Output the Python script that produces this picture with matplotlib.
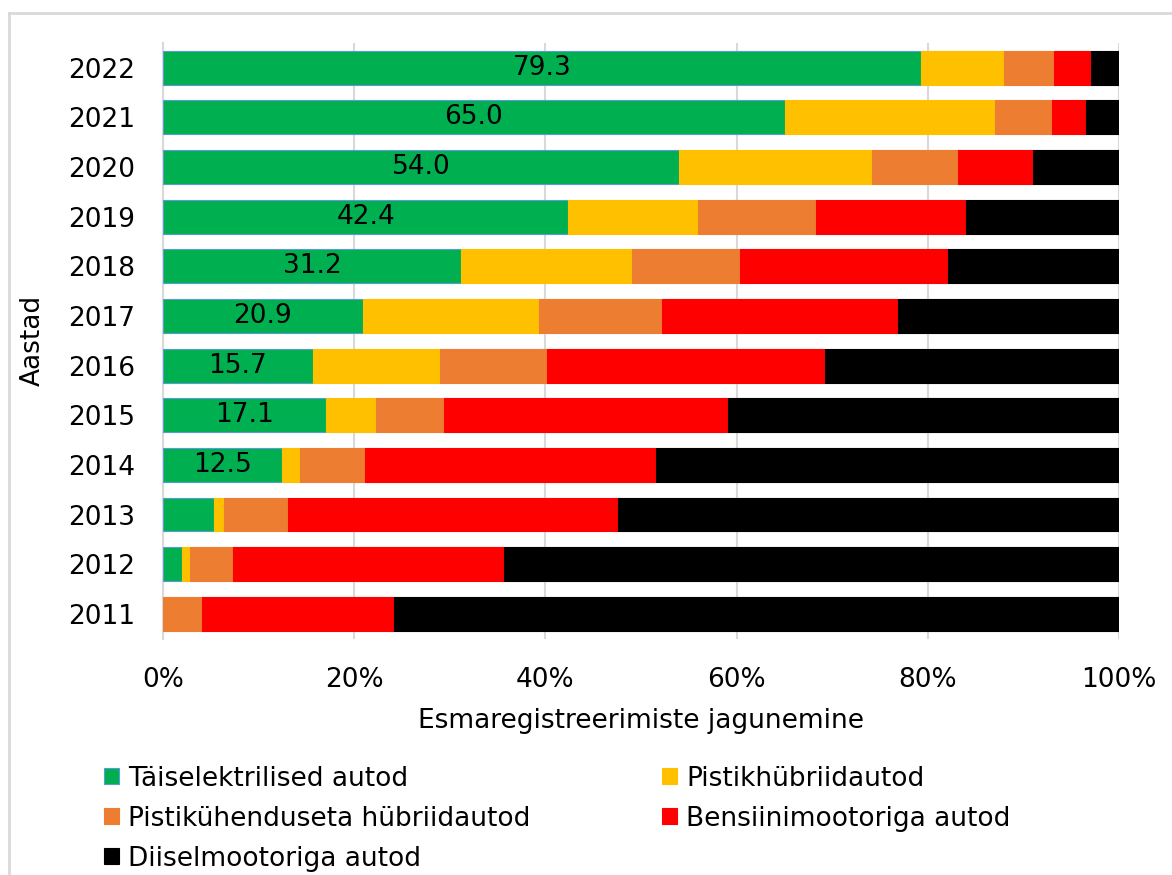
import matplotlib.pyplot as plt
import numpy as np
from matplotlib.lines import Line2D

years = ['2011', '2012', '2013', '2014', '2015', '2016',
         '2017', '2018', '2019', '2020', '2021', '2022']

# shares of first registrations, %
electric = [0.0, 2.0, 5.3, 12.5, 17.1, 15.7, 20.9, 31.2, 42.4, 54.0, 65.0, 79.3]
plugin = [0.0, 0.8, 1.1, 1.8, 5.2, 13.3, 18.4, 17.9, 13.6, 20.1, 22.0, 8.6]
hybrid = [4.1, 4.5, 6.7, 6.8, 7.1, 11.2, 12.9, 11.2, 12.3, 9.0, 6.0, 5.3]
petrol = [20.1, 28.4, 34.5, 30.5, 29.7, 29.0, 24.7, 21.8, 15.7, 7.9, 3.5, 3.8]
diesel = [75.8, 64.3, 52.4, 48.4, 40.9, 30.8, 23.1, 17.9, 16.0, 9.0, 3.5, 3.0]

labels = ['Täiselektrilised autod', 'Pistikhübriidautod',
          'Pistikühenduseta hübriidautod', 'Bensiinimootoriga autod',
          'Diiselmootoriga autod']
colors = ['#00b050', '#ffc000', '#ed7d31', '#ff0000', '#000000']
series = [electric, plugin, hybrid, petrol, diesel]

FS = 19
plt.rcParams['font.family'] = ['DejaVu Sans']

fig = plt.figure(figsize=(11.72, 8.75), dpi=100)
ax = fig.add_axes([0.139, 0.270, 0.816, 0.681])

y = np.arange(len(years))
left = np.zeros(len(years))
handles = []
for vals, lab, col in zip(series, labels, colors):
    edge = '#5b9bd5' if col == '#00b050' else col
    b = ax.barh(y, vals, left=left, height=0.68, color=col, label=lab,
                edgecolor=edge, linewidth=0.8, zorder=3)
    handles.append(b)
    left += np.array(vals)

# value labels on the electric share from 2014 on
for i, v in enumerate(electric):
    if v >= 10:
        ax.text(v / 2, i, f'{v:.1f}', ha='center', va='center',
                fontsize=FS, color='black', zorder=4)

ax.set_xlim(0, 100)
ax.set_ylim(-0.5, len(years) - 0.5)
ax.set_yticks(y)
ax.set_yticklabels(years, fontsize=FS)
ax.set_xticks(np.arange(0, 101, 20))
ax.set_xticklabels([f'{t}%' for t in range(0, 101, 20)], fontsize=FS)
ax.tick_params(axis='y', length=0, pad=20)
ax.tick_params(axis='x', length=0, pad=20)
ax.grid(axis='x', color='#d9d9d9', linewidth=1.5, zorder=0)
for s in ['top', 'right', 'bottom']:
    ax.spines[s].set_visible(False)
ax.spines['left'].set_color('#d9d9d9')
ax.spines['left'].set_linewidth(1.5)

ax.set_xlabel('Esmaregistreerimiste jagunemine', fontsize=FS, labelpad=11)
ax.set_ylabel('Aastad', fontsize=FS, labelpad=16)

# row-wise legend order: matplotlib fills columns first
order = [0, 2, 4, 1, 3]
fig.legend([handles[i] for i in order], [labels[i] for i in order],
           loc='upper left', bbox_to_anchor=(0.080, 0.137), ncol=2,
           frameon=False, fontsize=FS, handlelength=0.55, handleheight=0.55,
           handletextpad=0.35, columnspacing=5.0, labelspacing=0.53,
           borderaxespad=0)

# chart frame: top and left edges only
frame = dict(transform=fig.transFigure, color='#d9d9d9', linewidth=2)
fig.lines.append(Line2D([0.008, 1.0], [0.985, 0.985], **frame))
fig.lines.append(Line2D([0.008, 0.008], [0.0, 0.985], **frame))

fig.savefig('out.png', dpi=100)
